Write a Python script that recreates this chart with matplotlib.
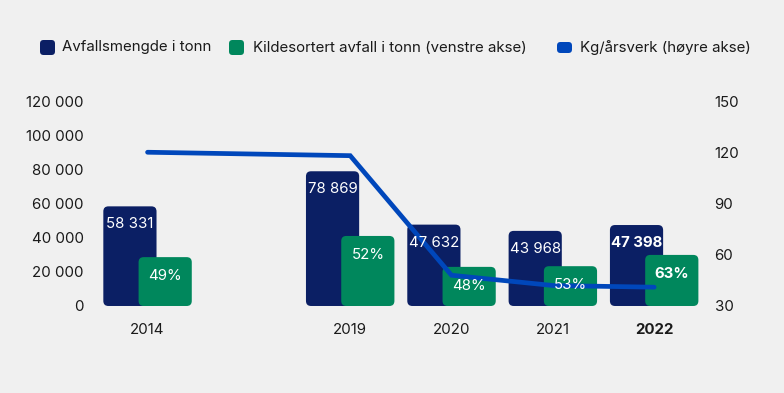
import matplotlib.pyplot as plt
from matplotlib.patches import FancyBboxPatch

years = ["2014", "2019", "2020", "2021", "2022"]
slots = [0, 2, 3, 4, 5]  # 2015-2018 missing, leave a gap
avfall_tonn = [58331, 78869, 47632, 43968, 47398]
kilde_tonn = [28600, 41000, 22900, 23300, 29900]
kilde_pct = [49, 52, 48, 53, 63]
kg_aarsverk = [120, 118, 48, 42, 41]

left_ticks = [0, 20000, 40000, 60000, 80000, 100000, 120000]
right_ticks = [30, 60, 90, 120, 150]

NAVY = "#0b1f64"
GREEN = "#00875c"
BLUE = "#0047bb"
BG = "#f0f0f0"
TXT = "#1a1a1a"

plt.rcParams["font.family"] = ["Inter", "DejaVu Sans"]

fig = plt.figure(figsize=(7.84, 3.93), dpi=100, facecolor=BG)
ax = fig.add_axes([0.121, 0.2214, 0.778, 0.5216])
ax.set_facecolor(BG)
ax2 = ax.twinx()

width = 0.525
off = 0.174
navy_bars = ax.bar([s - off for s in slots], avfall_tonn, width, color=NAVY)
green_bars = ax.bar([s + off for s in slots], kilde_tonn, width, color=GREEN)

ax.set_xlim(-0.52, 5.5)
ax.set_ylim(0, 120000)
ax2.set_ylim(30, 150)

# aspect between data units so corners come out round
px_x = 610 / (5.5 + 0.52)
px_y = 205 / 120000
aspect = px_x / px_y
for bars, col in [(navy_bars, NAVY), (green_bars, GREEN)]:
    for b in bars:
        b.set_visible(False)
        fb = FancyBboxPatch((b.get_x(), b.get_y()), b.get_width(), b.get_height(),
                            boxstyle="round,pad=0,rounding_size=0.05",
                            mutation_aspect=aspect, fc=col, ec="none")
        ax.add_patch(fb)

ax2.plot(slots, kg_aarsverk, color=BLUE, lw=3.4, solid_capstyle="round",
         solid_joinstyle="miter")

for i, s in enumerate(slots):
    w = "bold" if years[i] == "2022" else "normal"
    y_top = avfall_tonn[i] - 18 / px_y
    ax2.text(s - off, y_top, f"{avfall_tonn[i]:,}".replace(",", " "), transform=ax.transData,
             ha="center", va="center", color="white", fontsize=10.8, fontweight=w)
    g_top = kilde_tonn[i] - 19 / px_y
    ax2.text(s + off, g_top, f"{kilde_pct[i]}%", transform=ax.transData,
             ha="center", va="center", color="white", fontsize=10.8, fontweight=w)

ax.set_xticks(slots)
ax.set_xticklabels(years)
for lab in ax.get_xticklabels():
    if lab.get_text() == "2022":
        lab.set_fontweight("bold")
ax.set_yticks(left_ticks)
ax.set_yticklabels([f"{v:,}".replace(",", " ") for v in left_ticks])
ax2.set_yticks(right_ticks)
ax2.set_yticklabels([str(v) for v in right_ticks])

ax.tick_params(axis="x", length=0, pad=12, labelsize=10.8, labelcolor=TXT)
ax.tick_params(axis="y", length=0, pad=8, labelsize=10.8, labelcolor=TXT)
ax2.tick_params(axis="y", length=0, pad=7, labelsize=10.8, labelcolor=TXT)
for a in (ax, ax2):
    for sp in a.spines.values():
        sp.set_visible(False)

# legend, drawn by hand in pixel positions (from top-left)
# (label, colour, marker x, marker w, marker h, text x)
legend = [("Avfallsmengde i tonn", NAVY, 40, 15, 15, 62),
          ("Kildesortert avfall i tonn (venstre akse)", GREEN, 229, 15, 15, 253),
          ("Kg/årsverk (høyre akse)", BLUE, 557, 15, 11, 580)]
W, H = 784, 393
cy = 47.5
for label, col, mx, mw, mh, tx in legend:
    fig.patches.append(FancyBboxPatch((mx / W, (H - cy - mh / 2) / H), mw / W, mh / H,
                                      boxstyle="round,pad=0,rounding_size=0.0045",
                                      transform=fig.transFigure, fc=col, ec="none",
                                      mutation_aspect=W / H))
    fig.text(tx / W, (H - cy) / H, label, ha="left", va="center",
             fontsize=10.8, color=TXT)

fig.savefig("out.png", dpi=100, facecolor=BG)
